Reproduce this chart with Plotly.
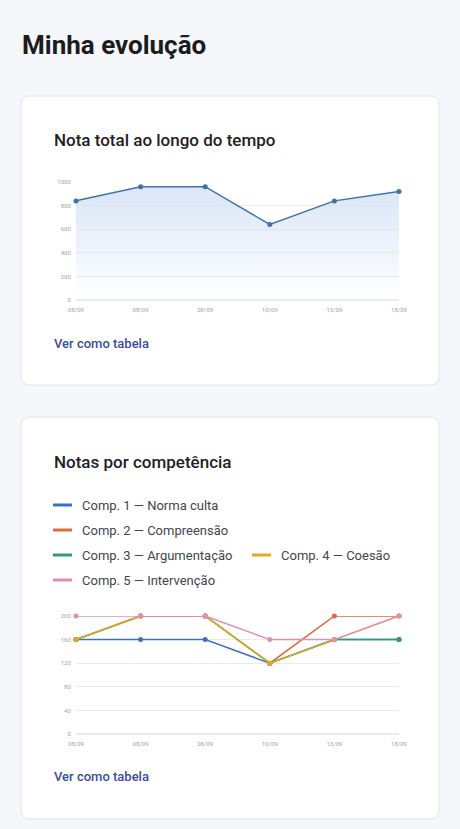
import plotly.graph_objects as go

W, H = 460, 829

# ---- data ----
datas = ["08/09", "08/09", "08/09", "10/09", "13/09", "18/09"]
nota_total = [840, 960, 960, 640, 840, 920]
comp_nomes = [
    "Comp. 1 — Norma culta",
    "Comp. 2 — Compreensão",
    "Comp. 3 — Argumentação",
    "Comp. 4 — Coesão",
    "Comp. 5 — Intervenção",
]
comp1 = [160, 160, 160, 120, 160, 160]
comp2 = [160, 200, 200, 120, 200, 200]
comp3 = [160, 200, 200, 120, 160, 160]
comp4 = [160, 200, 200, 120, 160, 200]
comp5 = [200, 200, 200, 160, 160, 200]
total_ticks = [0, 200, 400, 600, 800, 1000]
comp_ticks = [0, 40, 80, 120, 160, 200]

comp_cores = ["#3b73c4", "#e0683a", "#2a9d78", "#e2aa1e", "#e48db4"]
FONT = "Roboto"

def px(x):
    return x / W

def py(y):
    return 1 - y / H

def rounded_rect(x0, y0, x1, y1, r):
    X0, X1 = px(x0), px(x1)
    Y0, Y1 = py(y0), py(y1)
    rx, ry = r / W, r / H
    return (f"M {X0+rx},{Y0} L {X1-rx},{Y0} Q {X1},{Y0} {X1},{Y0-ry} "
            f"L {X1},{Y1+ry} Q {X1},{Y1} {X1-rx},{Y1} L {X0+rx},{Y1} "
            f"Q {X0},{Y1} {X0},{Y1+ry} L {X0},{Y0-ry} Q {X0},{Y0} {X0+rx},{Y0} Z")

xs = list(range(len(datas)))

fig = go.Figure()

# chart 1
fig.add_trace(go.Scatter(
    x=xs, y=nota_total, mode="lines+markers",
    line=dict(color="#3f70ad", width=1.5),
    marker=dict(size=5, color="#3f70ad"),
    fill="tozeroy",
    fillgradient=dict(type="vertical", start=0, stop=1000,
                      colorscale=[[0, "rgba(214,227,246,0.0)"], [1, "rgba(214,227,246,0.95)"]]),
    cliponaxis=False, showlegend=False, xaxis="x", yaxis="y",
))

# chart 2
for nome, vals, cor in zip(comp_nomes, [comp1, comp2, comp3, comp4, comp5], comp_cores):
    fig.add_trace(go.Scatter(
        x=xs, y=vals, mode="lines+markers", name=nome,
        line=dict(color=cor, width=1.5),
        marker=dict(size=5, color=cor),
        cliponaxis=False, showlegend=False, xaxis="x2", yaxis="y2",
    ))

axis_common = dict(
    range=[0, 5], tickmode="array", tickvals=xs, ticktext=datas,
    showgrid=False, zeroline=False, showline=False, automargin=False,
    tickfont=dict(size=6, color="#a3a3a3", family=FONT),
    ticks="outside", ticklen=4, tickcolor="rgba(0,0,0,0)", fixedrange=True,
)
yaxis_common = dict(
    showgrid=True, gridcolor="#ebebeb", gridwidth=1, zeroline=False,
    showline=False, automargin=False, tickfont=dict(size=6, color="#a3a3a3", family=FONT),
    ticks="outside", ticklen=3, tickcolor="rgba(0,0,0,0)", fixedrange=True,
)

fig.update_layout(
    template="none",
    width=W, height=H, margin=dict(l=0, r=0, t=0, b=0, pad=0, autoexpand=False),
    paper_bgcolor="#f6f7fa", plot_bgcolor="rgba(0,0,0,0)",
    font=dict(family=FONT),
    xaxis=dict(domain=[px(76), px(399)], anchor="y", **axis_common),
    yaxis=dict(domain=[py(300), py(182)], anchor="x", range=[0, 1000],
               tickvals=total_ticks, **yaxis_common),
    xaxis2=dict(domain=[px(76), px(399)], anchor="y2", **axis_common),
    yaxis2=dict(domain=[py(734), py(616)], anchor="x2", range=[0, 200],
                tickvals=comp_ticks, **yaxis_common),
)

shapes = [
    dict(type="path", path=rounded_rect(21, 96, 439, 385, 9), xref="paper", yref="paper",
         fillcolor="white", line=dict(color="#e2e4e9", width=1), layer="below"),
    dict(type="path", path=rounded_rect(21, 417, 439, 819, 9), xref="paper", yref="paper",
         fillcolor="white", line=dict(color="#e2e4e9", width=1), layer="below"),
    # axis baselines
    dict(type="line", xref="paper", yref="paper", x0=px(76), x1=px(399), y0=py(300), y1=py(300),
         line=dict(color="#d6d6d6", width=1), layer="below"),
    dict(type="line", xref="paper", yref="paper", x0=px(76), x1=px(399), y0=py(734), y1=py(734),
         line=dict(color="#d6d6d6", width=1), layer="below"),
]

annotations = [
    dict(text="<b>Minha evolução</b>", x=px(20), y=py(45), font=dict(size=26, color="#1a1c20")),
    dict(text="Nota total ao longo do tempo", x=px(52), y=py(140),
         font=dict(size=17, color="#1f2125", weight=500)),
    dict(text="Notas por competência", x=px(52), y=py(462),
         font=dict(size=17, color="#1f2125", weight=500)),
    dict(text="Ver como tabela", x=px(52), y=py(343),
         font=dict(size=13, color="#3b4d9b", weight=500)),
    dict(text="Ver como tabela", x=px(52), y=py(776),
         font=dict(size=13, color="#3b4d9b", weight=500)),
]

# custom legend
legend_pos = [(53, 505), (53, 530), (53, 555), (252, 555), (53, 580)]
for (lx, ly), nome, cor in zip(legend_pos, comp_nomes, comp_cores):
    shapes.append(dict(type="line", xref="paper", yref="paper", x0=px(lx), x1=px(lx + 19),
                       y0=py(ly), y1=py(ly), line=dict(color=cor, width=3)))
    annotations.append(dict(text=nome, x=px(lx + 27), y=py(ly),
                            font=dict(size=13, color="#44464b")))

for a in annotations:
    a.update(xref="paper", yref="paper", xanchor="left", yanchor="middle", showarrow=False)
    a["font"].setdefault("family", FONT)

fig.update_layout(shapes=shapes, annotations=annotations)

fig.write_html(
    "out.html",
    config={"displayModeBar": False},
    post_script="document.body.style.margin='0';document.body.style.padding='0';"
                "document.documentElement.style.overflow='hidden';",
)
